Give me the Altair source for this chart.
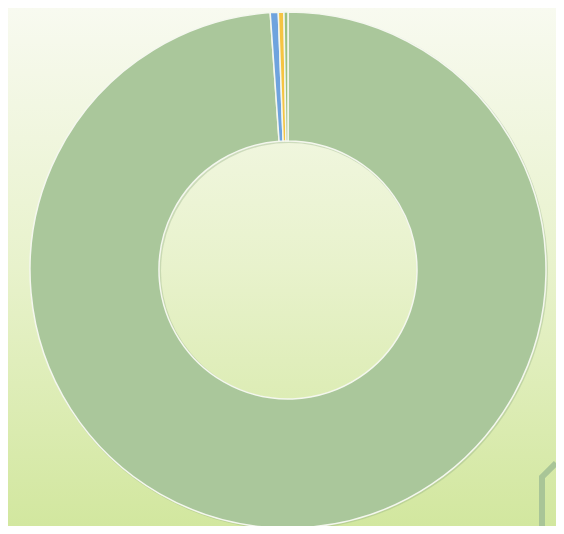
import altair as alt
import pandas as pd

categories = ["A", "B", "C", "D"]
values = [98.9, 0.5, 0.35, 0.25]
colors = ["#aac79b", "#6fa3de", "#f5c443", "#9cc07f"]

df = pd.DataFrame({"category": categories, "value": values, "order": list(range(len(categories)))})

W, H = 548, 518
CX, CY = 280, 262

bg = alt.Chart(alt.Data(values=[{"k": 1}])).mark_rect(
    color=alt.LinearGradient(
        gradient="linear",
        stops=[alt.GradientStop(color="#f8faf0", offset=0),
               alt.GradientStop(color="#e8f2cc", offset=0.5),
               alt.GradientStop(color="#d2e79f", offset=1)],
        x1=0, x2=0, y1=0, y2=1),
).encode(x=alt.value(0), x2=alt.value(W), y=alt.value(0), y2=alt.value(H))

shadow = alt.Chart(alt.Data(values=[{"k": 1}])).mark_arc(
    radius=259, radius2=128, theta=0, theta2=6.2832, color="#8fab82", opacity=0.35
).encode(x=alt.value(CX + 1), y=alt.value(CY + 1))

donut = alt.Chart(df).mark_arc(
    radius=258, radius2=129, stroke="#f4f7ee", strokeWidth=1.5
).encode(
    theta=alt.Theta("value:Q", stack=True),
    color=alt.Color("category:N", scale=alt.Scale(domain=categories, range=colors), legend=None),
    order=alt.Order("order:Q"),
    x=alt.value(CX), y=alt.value(CY),
)

deco = alt.Chart(alt.Data(values=[{"k": 1}])).mark_rule(color="#a9c597", strokeWidth=6).encode(
    x=alt.value(533), y=alt.value(470), x2=alt.value(W), y2=alt.value(455))
deco2 = alt.Chart(alt.Data(values=[{"k": 1}])).mark_rule(color="#a9c597", strokeWidth=6).encode(
    x=alt.value(534), y=alt.value(468), x2=alt.value(534), y2=alt.value(H))

chart = alt.layer(bg, shadow, donut, deco, deco2).properties(
    width=W, height=H, padding=0,
    autosize=alt.AutoSizeParams(type="fit", contains="padding"),
).configure_view(stroke=None).configure(background="#eaf2d2")

chart.save("out.html", embed_options={"renderer": "svg", "actions": False})
